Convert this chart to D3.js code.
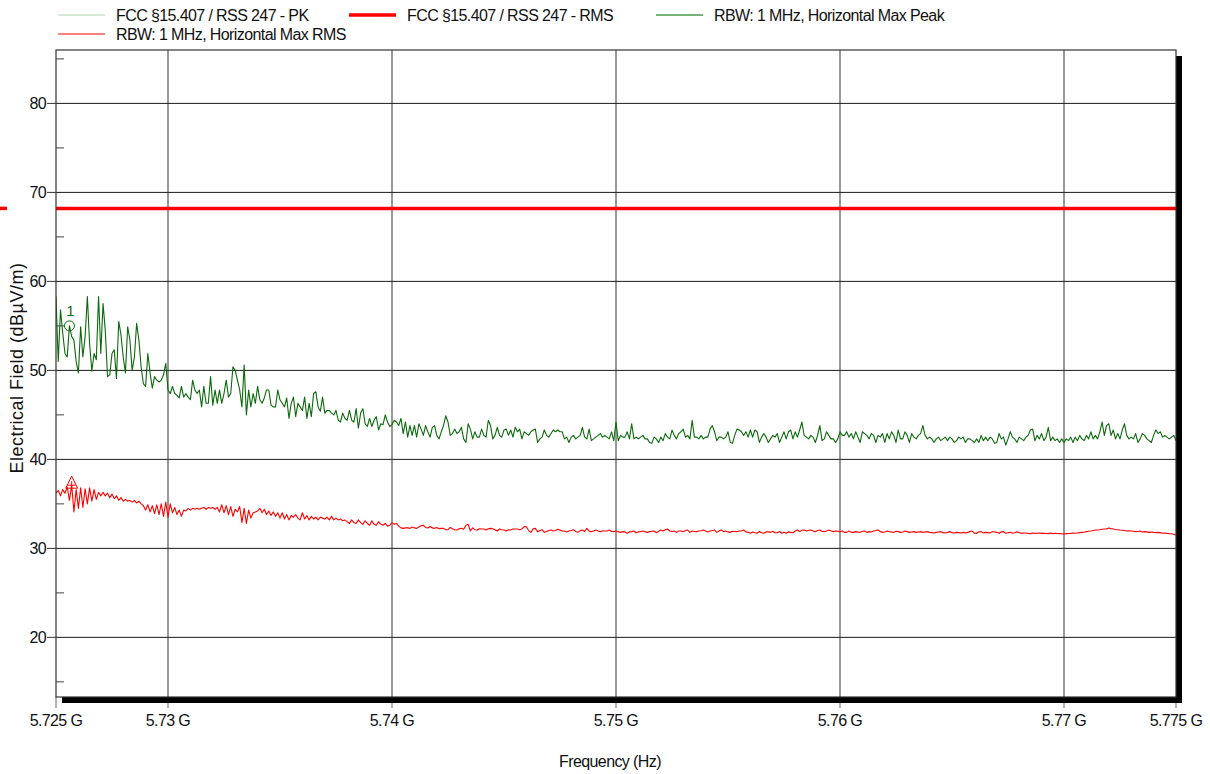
<!DOCTYPE html>
<html>
<head>
<meta charset="utf-8">
<script src="https://cdn.jsdelivr.net/npm/d3@7"></script>
<style>
  body { margin: 0; background: #fff; }
  svg text { font-family: "Liberation Sans", Arial, sans-serif; }
</style>
</head>
<body>
<svg id="chart" width="1210" height="774"></svg>
<script>
// Sweep definition: 501 points, 0.1 MHz apart, starting at 5.725 GHz
const sweepStartHz = 5.725e9;
const sweepStepHz = 0.1e6;

// Max peak trace (dBµV/m)
const peakLevels = [
  58.3, 51.0, 56.8, 54.2, 51.9, 51.5, 55.0, 53.8, 53.4, 51.0,
  49.7, 54.9, 51.5, 53.8, 58.3, 53.0, 49.9, 51.9, 51.2, 58.3,
  51.9, 57.5, 54.5, 49.3, 49.5, 51.9, 52.3, 49.1, 55.5, 54.0,
  51.5, 49.7, 54.9, 53.4, 50.0, 51.5, 55.3, 53.4, 50.4, 48.5,
  48.2, 51.9, 49.7, 48.0, 49.3, 48.9, 48.7, 48.9, 49.5, 50.8,
  47.8, 47.4, 48.2, 47.4, 47.2, 46.9, 48.2, 47.0, 47.4, 47.0,
  46.7, 48.9, 47.8, 47.4, 47.8, 45.9, 48.2, 46.3, 46.3, 49.3,
  46.1, 47.8, 46.3, 47.8, 46.3, 47.4, 48.9, 47.0, 47.4, 50.4,
  50.0, 48.9, 47.8, 45.9, 50.6, 45.0, 47.8, 45.9, 47.4, 46.3,
  48.2, 46.7, 46.3, 46.9, 47.8, 47.8, 46.1, 45.9, 45.9, 47.8,
  46.7, 46.3, 45.9, 46.9, 44.6, 46.3, 47.0, 44.8, 46.3, 45.9,
  45.5, 47.0, 44.6, 46.3, 44.8, 47.4, 47.6, 45.9, 45.4, 47.0,
  45.2, 45.5, 45.5, 45.2, 45.0, 45.5, 44.4, 44.2, 45.2, 44.6,
  44.4, 45.5, 44.4, 44.2, 45.7, 43.5, 45.2, 45.7, 44.0, 43.7,
  44.6, 43.7, 44.4, 44.8, 43.3, 44.0, 43.9, 45.0, 44.2, 43.7,
  43.9,
  44.4, 44.2, 43.8, 44.6, 42.9, 44.2, 42.5, 43.8, 42.7, 43.8,
  42.5, 44.0, 43.4, 42.7, 43.8, 43.1, 42.5, 43.6, 43.8, 42.7,
  42.3, 43.1, 43.8, 44.9, 44.2, 42.7, 42.9, 43.4, 42.9, 43.1,
  43.6, 42.3, 41.9, 44.0, 43.4, 42.3, 43.1, 42.5, 42.5, 43.4,
  42.7, 42.5, 44.4, 43.8, 42.3, 42.7, 43.6, 42.7, 42.5, 43.3,
  43.4, 42.7, 43.3, 42.5, 43.6, 43.1, 43.4, 42.3, 43.1, 42.9,
  42.7, 43.1, 43.3, 43.4, 41.9, 42.3, 42.5, 43.3, 42.7, 42.5,
  42.9, 43.3, 43.1, 43.3, 43.1, 43.1, 42.3, 42.5, 41.9, 42.5,
  42.7, 42.3, 42.5, 42.7, 43.6, 42.5, 42.3, 43.4, 42.1, 42.3,
  42.5, 42.7, 42.9, 42.5, 42.7, 42.5, 42.3, 43.1, 42.1, 44.2,
  42.1, 42.7, 42.5, 42.5, 43.1, 42.3, 44.0, 42.3, 42.5, 42.3,
  42.5, 42.7, 42.3, 42.3, 41.9, 41.8, 42.5, 42.3, 41.9, 42.5,
  42.1, 42.9, 42.5, 42.3, 43.3, 42.7, 42.3, 42.9, 43.1, 43.4,
  42.5, 42.7, 42.3, 44.4, 42.5, 42.5, 42.3, 42.7, 42.3, 42.5,
  42.5, 43.4, 43.8, 43.1, 42.1, 42.5, 42.5, 42.3, 42.5, 43.1,
  41.9, 41.8, 42.7, 43.4, 43.3, 43.1, 42.7, 43.1, 42.5, 43.3,
  42.5, 43.3, 43.1, 41.9, 42.5, 42.9, 42.5, 41.9, 42.3, 42.7,
  42.5, 42.9, 41.9, 42.5, 43.1, 42.3, 43.1, 43.3, 42.3,
  43.1, 42.5, 43.3, 44.2, 42.7, 42.5, 42.3, 42.7, 42.5, 41.9,
  42.7, 43.8, 42.1, 42.3, 43.1, 42.7, 42.3, 42.3, 41.9, 42.3,
  43.1, 42.7, 42.7, 43.1, 42.5, 42.9, 42.3, 43.1, 42.5, 41.9,
  43.1, 42.9, 42.7, 42.3, 42.9, 42.7, 41.9, 42.7, 42.5, 42.9,
  41.9, 42.9, 42.3, 43.1, 42.7, 41.9, 43.3, 42.3, 42.3, 43.1,
  42.7, 41.9, 42.9, 42.5, 42.3, 42.7, 42.9, 43.8, 42.7, 42.3,
  42.5, 42.3, 41.9, 42.3, 42.5, 42.1, 42.3, 42.5, 42.1, 42.5,
  42.3, 41.9, 42.1, 42.5, 42.3, 42.5, 41.9, 42.3, 42.3, 42.1,
  41.9, 42.3, 41.9, 42.7, 42.1, 42.5, 42.1, 42.5, 42.3, 41.8,
  41.9, 42.9, 42.3, 42.5, 41.6, 42.3, 43.1, 42.5, 42.3, 41.9,
  42.5, 42.3, 42.1, 42.5, 42.7, 43.3, 43.4, 42.1, 42.7, 42.3,
  42.9, 42.1, 42.5, 43.6, 42.1, 42.5, 42.1, 42.3, 41.9, 42.3,
  41.9, 42.3, 42.1, 42.5, 41.9, 42.5, 42.1, 42.7, 42.3, 42.1,
  42.7, 42.3, 43.1, 42.3, 42.7, 42.3, 43.1, 44.2, 42.7, 43.8,
  44.0, 42.7, 43.3, 42.3, 42.9, 42.3, 43.3, 44.0, 42.7, 42.3,
  42.5, 42.3, 42.9, 41.9, 42.3, 42.9, 42.7, 42.3, 42.1, 41.9,
  42.7, 43.3, 42.9, 43.1, 42.5, 42.7, 42.5, 42.3, 42.5, 42.7,
  42.1
];

// Max RMS trace (dBµV/m)
const rmsLevels = [
  36.2, 36.5, 35.9, 36.6, 36.2, 36.9, 35.4, 37.1, 34.1, 36.6,
  34.5, 36.8, 34.6, 36.7, 35.0, 36.8, 35.3, 36.6, 35.5, 36.3,
  35.9, 36.3, 35.9, 36.2, 35.7, 36.1, 35.6, 35.9, 35.4, 35.7,
  35.3, 35.5, 35.3, 35.4, 35.2, 35.4, 35.1, 35.3, 35.0, 34.8,
  34.3, 34.9, 34.1, 34.8, 33.9, 34.9, 33.8, 35.0, 33.6, 35.2,
  33.5, 35.0, 34.0, 34.6, 33.8, 34.3, 33.6, 34.3, 34.2, 34.5,
  34.3, 34.5, 34.4, 34.5, 34.4, 34.5, 34.6, 34.4, 34.6, 34.5,
  34.6, 34.4, 34.6, 34.1, 34.9, 34.0, 34.8, 33.8, 34.7, 33.6,
  34.4, 34.1, 34.7, 32.9, 34.5, 32.8, 34.3, 33.4, 34.0, 34.1,
  34.2, 34.5, 34.0, 34.4, 33.8, 34.2, 33.7, 34.1, 33.6, 34.0,
  33.4, 34.0, 33.3, 33.8, 33.2, 33.7, 33.5, 33.8, 33.4, 33.2,
  34.0, 33.3, 33.7, 33.2, 33.6, 33.3, 33.5, 33.2, 33.5, 33.4,
  33.3, 33.5, 33.2, 33.6, 33.2, 33.4, 33.2, 33.3, 33.1, 33.2,
  33.0, 32.8, 33.2, 32.9, 32.8, 33.2, 32.9, 32.7, 33.1, 32.8,
  32.6, 33.1, 32.7, 32.6, 33.0, 32.7, 32.6, 32.8, 32.5, 32.6,
  32.9,
  32.7, 32.8, 32.5, 32.3, 32.25, 32.3, 32.3, 32.25, 32.4, 32.3,
  32.25, 32.4, 32.55, 32.6, 32.35, 32.3, 32.45, 32.3, 32.25, 32.35,
  32.2, 32.25, 32.25, 32.1, 32.1, 32.35, 32.2, 32.1, 32.06, 32.2,
  32.25, 32.15, 32.6, 32.7, 31.95, 32.3, 32.1, 32.06, 32.2, 32.18,
  32.18, 32.06, 32.2, 32.25, 32.2, 32.1, 31.95, 32.18, 32.1, 32.06,
  31.95, 32.1, 32.06, 32.18, 32.18, 32.18, 32.1, 32.18, 32.44, 32.44,
  32.0, 31.8, 32.2, 32.25, 31.88, 32.0, 32.1, 31.8, 31.9, 32.0,
  32.06, 31.95, 32.0, 32.15, 32.06, 31.95, 31.95, 31.85, 31.95, 32.0,
  32.1, 31.9, 31.8, 32.0, 32.06, 31.9, 32.25, 31.95, 31.88, 31.95,
  32.06, 31.95, 31.88, 31.95, 31.95, 31.95, 32.06, 31.9, 31.88, 31.95,
  31.85, 31.8, 31.88, 31.85, 31.7, 31.85, 31.88, 31.95, 31.75, 31.85,
  31.88, 31.95, 31.85, 31.8, 31.88, 31.92, 31.95, 31.75, 31.9, 32.06,
  31.95, 32.1, 32.18, 31.95, 31.9, 31.95, 31.8, 31.95, 31.95, 31.88,
  32.0, 32.06, 31.8, 31.95, 31.9, 31.88, 31.95, 31.98, 32.06, 31.95,
  31.85, 31.95, 32.0, 32.06, 31.8, 31.95, 32.06, 31.88, 31.95, 31.85,
  31.8, 31.92, 31.9, 31.88, 31.95, 31.95, 32.06, 31.85, 31.8, 31.7,
  31.85, 31.75, 31.7, 31.9, 31.75, 31.7, 31.85, 31.85, 31.8, 31.92,
  31.75, 31.75, 31.9, 31.7, 31.8, 31.7, 31.85, 31.8, 31.75,
  31.95, 32.06, 31.88, 32.03, 32.06, 31.95, 32.03, 32.06, 31.95, 31.88,
  32.0, 32.06, 31.9, 31.88, 31.95, 32.06, 31.95, 31.88, 31.95, 31.92,
  31.88, 31.95, 31.8, 31.8, 31.95, 31.8, 31.8, 31.88, 31.84, 31.8,
  31.92, 31.95, 31.8, 31.88, 31.84, 31.95, 32.0, 32.06, 31.88, 31.8,
  31.84, 31.95, 31.88, 31.84, 31.8, 31.92, 31.88, 31.8, 31.84, 31.95,
  31.88, 31.8, 31.84, 31.88, 31.8, 31.84, 31.88, 31.8, 31.84, 31.88,
  31.8, 31.77, 31.73, 31.8, 31.84, 31.88, 31.77, 31.73, 31.8, 31.88,
  31.77, 31.73, 31.8, 31.77, 31.73, 31.8, 31.73, 31.8, 31.88, 31.95,
  31.7, 31.69, 31.85, 31.88, 31.73, 31.8, 31.77, 31.73, 31.88, 31.84,
  31.8, 31.69, 31.85, 31.88, 31.69, 31.75, 31.8, 31.69, 31.75, 31.88,
  31.77, 31.69, 31.72, 31.73, 31.69, 31.66, 31.73, 31.69, 31.7, 31.73,
  31.69, 31.69, 31.68, 31.66, 31.73, 31.66, 31.69, 31.68, 31.66, 31.64,
  31.62, 31.66, 31.68, 31.69, 31.73, 31.7, 31.72, 31.77, 31.8, 31.82,
  31.88, 31.92, 31.95, 32.0, 32.06, 32.06, 32.1, 32.15, 32.18, 32.18,
  32.3, 32.22, 32.18, 32.12, 32.1, 32.06, 32.03, 32.0, 31.95, 31.98,
  31.95, 31.92, 31.88, 31.9, 31.95, 31.84, 31.88, 31.85, 31.8, 31.84,
  31.8, 31.77, 31.8, 31.77, 31.7, 31.73, 31.69, 31.66, 31.64, 31.58,
  31.5
];

// Limits (dBµV/m)
const limitPeak = 88.2;
const limitRms = 68.2;

// Marker positions (sweep point index)
const peakMarkerIndex = 6;
const rmsMarkerIndex = 7;
const peakMarkerLabel = "1";

// Axes
const freqDomain = [5.725e9, 5.775e9];
const levelDomain = [13.3, 86.0];
const xTicks = [5.725e9, 5.73e9, 5.74e9, 5.75e9, 5.76e9, 5.77e9, 5.775e9];
const xTickLabels = ["5.725 G", "5.73 G", "5.74 G", "5.75 G", "5.76 G", "5.77 G", "5.775 G"];
const xGrid = [5.73e9, 5.74e9, 5.75e9, 5.76e9, 5.77e9];
const yTicks = [20, 30, 40, 50, 60, 70, 80];
const yMinorTicks = [15, 25, 35, 45, 55, 65, 75, 85];
const xTitle = "Frequency (Hz)";
const yTitle = "Electrical Field (dBµV/m)";

// Legend entries
const legendLabels = [
  "FCC §15.407 / RSS 247 - PK",
  "FCC §15.407 / RSS 247 - RMS",
  "RBW: 1 MHz, Horizontal Max Peak",
  "RBW: 1 MHz, Horizontal Max RMS"
];

// ---------------------------------------------------------------
const box = { left: 56, top: 50, right: 1176, bottom: 697 };
const shadow = 6;
const FONT = 16;
const LS = "-0.6px";

const svg = d3.select("#chart");
const x = d3.scaleLinear().domain(freqDomain).range([box.left, box.right]);
const y = d3.scaleLinear().domain(levelDomain).range([box.bottom, box.top]);
const freqAt = i => sweepStartHz + i * sweepStepHz;

// x tick marks (below the frame, partly hidden by the drop shadow)
svg.append("g").selectAll("line").data(xTicks).join("line")
  .attr("x1", d => x(d)).attr("x2", d => x(d))
  .attr("y1", box.bottom).attr("y2", box.bottom + 11)
  .attr("stroke", "#666").attr("stroke-width", 1);

// drop shadow
svg.append("rect")
  .attr("x", box.left + shadow).attr("y", box.top + shadow)
  .attr("width", box.right - box.left).attr("height", box.bottom - box.top)
  .attr("fill", "#000");

// plot background
svg.append("rect")
  .attr("x", box.left).attr("y", box.top)
  .attr("width", box.right - box.left).attr("height", box.bottom - box.top)
  .attr("fill", "#fff");

svg.append("defs").append("clipPath").attr("id", "plotClip")
  .append("rect")
  .attr("x", box.left).attr("y", box.top)
  .attr("width", box.right - box.left).attr("height", box.bottom - box.top);

// grid
svg.append("g").selectAll("line").data(xGrid).join("line")
  .attr("x1", d => x(d)).attr("x2", d => x(d))
  .attr("y1", box.top).attr("y2", box.bottom)
  .attr("stroke", "#555").attr("stroke-width", 1.2);

svg.append("g").selectAll("line").data(yTicks).join("line")
  .attr("x1", box.left).attr("x2", box.right)
  .attr("y1", d => y(d)).attr("y2", d => y(d))
  .attr("stroke", "#1a1a1a").attr("stroke-width", 1);

// minor ticks (inside) and major ticks (outside)
svg.append("g").selectAll("line").data(yMinorTicks).join("line")
  .attr("x1", box.left).attr("x2", box.left + 8)
  .attr("y1", d => y(d)).attr("y2", d => y(d))
  .attr("stroke", "#444").attr("stroke-width", 1);

svg.append("g").selectAll("line").data(yTicks).join("line")
  .attr("x1", box.left - 9).attr("x2", box.left)
  .attr("y1", d => y(d)).attr("y2", d => y(d))
  .attr("stroke", "#333").attr("stroke-width", 1);

// y tick labels
svg.append("g").selectAll("text").data(yTicks).join("text")
  .attr("x", box.left - 10).attr("y", d => y(d)).attr("dy", "0.36em")
  .attr("text-anchor", "end").attr("font-size", FONT)
  .attr("letter-spacing", LS).attr("fill", "#111")
  .text(d => d);

// x tick labels
svg.append("g").selectAll("text").data(xTicks).join("text")
  .attr("x", d => x(d)).attr("y", 726)
  .attr("text-anchor", "middle").attr("font-size", FONT)
  .attr("letter-spacing", LS).attr("fill", "#111")
  .text((d, i) => xTickLabels[i]);

// axis titles
svg.append("text")
  .attr("x", 610).attr("y", 767)
  .attr("text-anchor", "middle").attr("font-size", FONT)
  .attr("letter-spacing", LS).attr("fill", "#111")
  .text(xTitle);

svg.append("text")
  .attr("transform", `translate(23,368) rotate(-90)`)
  .attr("text-anchor", "middle").attr("font-size", 18)
  .attr("letter-spacing", "0.5px").attr("fill", "#111")
  .text(yTitle);

// plotted content
const plotG = svg.append("g").attr("clip-path", "url(#plotClip)");

// limit lines
plotG.append("line")
  .attr("x1", x(freqDomain[0])).attr("x2", x(freqDomain[1]))
  .attr("y1", y(limitPeak)).attr("y2", y(limitPeak))
  .attr("stroke", "#9fd49f").attr("stroke-width", 1);

plotG.append("line")
  .attr("x1", x(freqDomain[0])).attr("x2", x(freqDomain[1]))
  .attr("y1", y(limitRms)).attr("y2", y(limitRms))
  .attr("stroke", "#ff0000").attr("stroke-width", 3.5);

// short limit stub at the very left edge of the page
svg.append("line")
  .attr("x1", 0).attr("x2", 7)
  .attr("y1", y(limitRms)).attr("y2", y(limitRms))
  .attr("stroke", "#ff0000").attr("stroke-width", 3.5);

const line = d3.line()
  .x((d, i) => x(freqAt(i)))
  .y(d => y(d));

plotG.append("path").datum(rmsLevels)
  .attr("d", line).attr("fill", "none")
  .attr("stroke", "#ff0000").attr("stroke-width", 1.1)
  .attr("stroke-linejoin", "round");

plotG.append("path").datum(peakLevels)
  .attr("d", line).attr("fill", "none")
  .attr("stroke", "#0b6a0b").attr("stroke-width", 1.1)
  .attr("stroke-linejoin", "round");

// markers
const pmx = x(freqAt(peakMarkerIndex)), pmy = y(peakLevels[peakMarkerIndex]);
svg.append("circle")
  .attr("cx", pmx).attr("cy", pmy).attr("r", 5)
  .attr("fill", "none").attr("stroke", "#0b6a0b").attr("stroke-width", 1);
svg.append("text")
  .attr("x", pmx + 1).attr("y", pmy - 10)
  .attr("text-anchor", "middle").attr("font-size", 15)
  .attr("fill", "#0b6a0b")
  .text(peakMarkerLabel);

const rmx = x(freqAt(rmsMarkerIndex)), rmy = y(rmsLevels[rmsMarkerIndex]);
svg.append("path")
  .attr("d", `M${rmx},${rmy - 9}L${rmx + 6},${rmy + 3}L${rmx - 6},${rmy + 3}Z`)
  .attr("fill", "none").attr("stroke", "#ff0000").attr("stroke-width", 1);
svg.append("path")
  .attr("d", `M${rmx - 4},${rmy}H${rmx + 4}M${rmx},${rmy - 4}V${rmy + 5}`)
  .attr("fill", "none").attr("stroke", "#ff0000").attr("stroke-width", 1);

// frame
svg.append("rect")
  .attr("x", box.left).attr("y", box.top)
  .attr("width", box.right - box.left).attr("height", box.bottom - box.top)
  .attr("fill", "none").attr("stroke", "#333").attr("stroke-width", 1.2);

// legend
const legendItems = [
  { label: legendLabels[0], x: 58,  y: 15, color: "#a8d8a8", width: 1 },
  { label: legendLabels[1], x: 349, y: 15, color: "#ff0000", width: 3.5 },
  { label: legendLabels[2], x: 656, y: 15, color: "#4a9a4a", width: 1.5 },
  { label: legendLabels[3], x: 58,  y: 34, color: "#ff0000", width: 1 }
];
const lg = svg.append("g").selectAll("g").data(legendItems).join("g");
lg.append("line")
  .attr("x1", d => d.x).attr("x2", d => d.x + 47)
  .attr("y1", d => d.y).attr("y2", d => d.y)
  .attr("stroke", d => d.color).attr("stroke-width", d => d.width);
lg.append("text")
  .attr("x", d => d.x + 58).attr("y", d => d.y + 6)
  .attr("font-size", FONT).attr("letter-spacing", LS).attr("fill", "#111")
  .text(d => d.label);
</script>
</body>
</html>
